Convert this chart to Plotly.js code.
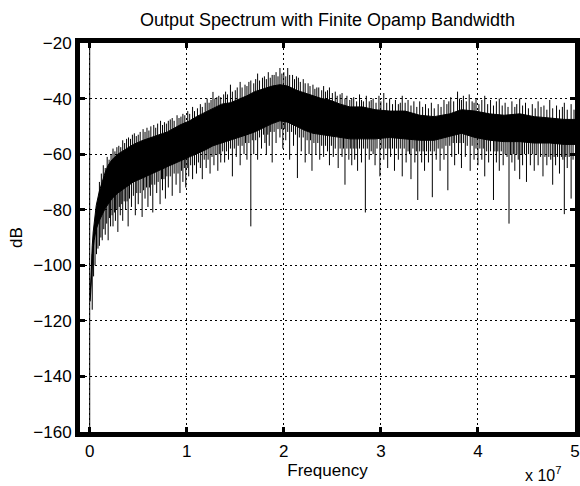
<!DOCTYPE html>
<html>
<head>
<meta charset="utf-8">
<script src="https://cdn.plot.ly/plotly-3.0.1.min.js"></script>
<style>
  html, body { margin: 0; padding: 0; background: #fff; }
  #chart { width: 580px; height: 486px; }
</style>
</head>
<body>
<div id="chart"></div>
<script>
// ---- Data (frequency in MHz, level in dB) ----
// Solid core of the noisy spectrum: upper and lower edge
const coreF = [0.05,0.15,0.26,0.36,0.46,0.67,0.98,1.29,1.6,1.9,2.3,2.9,3.65,4.5,5.5,6.7,8.0,9.3,10.3,11.0,11.9,12.7,13.6,14.5,15.5,16.2,17.0,17.9,18.8,19.6,20.4,21.3,22.2,23.0,23.9,24.7,25.8,26.8,28.1,29.4,30.9,32.5,34.0,35.5,37.1,38.3,39.7,41.2,42.7,44.3,45.8,47.4,48.9,50.0];
const coreTopDb = [-111,-101,-93,-88,-84.5,-78.5,-73.5,-69.5,-66.5,-64,-62,-60,-58.5,-56.5,-55,-53.5,-52,-49.5,-48,-46.5,-45,-43.5,-42,-41.5,-40,-39,-37.5,-36.5,-35.5,-35,-35.5,-37,-38,-39,-40,-40.5,-42,-43,-43,-44,-44.5,-44.5,-46,-46.5,-45.5,-44,-44.5,-45.5,-46,-45.5,-46.5,-47,-47.5,-47.5];
const coreBottomDb = [-113,-106,-98,-94,-91,-87,-84,-81.5,-79.5,-78,-76,-74,-72,-70,-68.5,-66.5,-64.5,-62.5,-61,-60,-58.5,-57,-56,-55,-54,-53,-52,-50.5,-49,-48,-48.5,-50,-51.5,-52.5,-53,-53.5,-54,-54.5,-54.5,-54.5,-54,-54.5,-55,-55,-53.5,-52.5,-54,-55,-55.5,-55.5,-56,-56,-56.5,-56.5];

// Downward noise spikes (frequency, minimum level)
const downF = [0.26,0.4,0.55,0.7,0.85,1.0,1.15,1.29,1.45,1.6,1.75,1.9,2.05,2.15,2.3,2.4,2.55,2.65,2.8,2.9,3.05,3.15,3.3,3.4,3.55,3.7,3.85,3.96,4.1,4.3,4.5,4.7,4.85,5.0,5.2,5.4,5.55,5.7,5.85,6.0,6.15,6.25,6.4,6.5,6.7,6.9,7.05,7.25,7.4,7.5,7.65,7.8,7.95,8.1,8.3,8.5,8.7,8.9,9.1,9.3,9.45,9.6,9.75,9.9,10.05,10.2,10.4,10.6,10.8,11.0,11.2,11.4,11.6,11.8,12.0,12.2,12.4,12.6,12.8,13.0,13.2,13.35,13.5,13.7,13.9,14.1,14.3,14.5,14.7,14.9,15.1,15.3,15.5,15.7,15.9,16.05,16.2,16.4,16.6,16.75,16.9,17.1,17.3,17.5,17.7,17.9,18.05,18.2,18.35,18.5,18.65,18.8,19.0,19.2,19.4,19.6,19.75,19.9,20.05,20.2,20.4,20.6,20.8,21.0,21.2,21.4,21.6,21.8,22.0,22.2,22.4,22.6,22.75,22.9,23.1,23.3,23.5,23.7,23.9,24.1,24.3,24.5,24.7,24.9,25.1,25.3,25.6,25.8,26.0,26.15,26.3,26.5,26.7,26.85,27.0,27.15,27.3,27.45,27.6,27.8,28.0,28.2,28.4,28.6,28.8,29.0,29.2,29.4,29.6,29.9,30.1,30.3,30.5,30.7,30.85,31.0,31.2,31.4,31.6,31.8,32.0,32.2,32.4,32.6,32.8,32.95,33.1,33.3,33.5,33.65,33.8,34.0,34.2,34.35,34.5,34.7,34.9,35.1,35.3,35.5,35.7,35.9,36.1,36.3,36.5,36.7,36.9,37.1,37.3,37.45,37.6,37.8,38.0,38.15,38.3,38.5,38.7,38.9,39.2,39.4,39.6,39.8,40.0,40.2,40.4,40.55,40.7,40.9,41.1,41.3,41.6,41.75,41.9,42.05,42.2,42.4,42.6,42.8,43.0,43.2,43.35,43.5,43.65,43.8,44.0,44.15,44.3,44.45,44.6,44.8,45.0,45.2,45.4,45.6,45.8,46.0,46.2,46.45,46.7,46.9,47.1,47.3,47.5,47.7,47.85,48.0,48.2,48.4,48.6,48.75,48.9,49.05,49.2,49.4,49.6,49.8];
const downDb = [-116,-104,-100,-96,-94,-93,-90,-91,-87,-89,-85,-91,-83,-86,-82,-86,-81,-84,-80,-88,-79,-82,-78,-84,-77,-80,-77,-86,-76,-79,-75,-82,-74,-78,-74,-82.6,-73,-76,-72,-79,-72,-75,-71,-81,-71,-74,-70,-78,-69,-73,-69,-76,-68,-72,-68,-75,-67,-71,-67,-74,-66,-70,-65,-72,-65,-68,-64,-69,-64,-67,-63,-65,-69,-62,-65,-62,-67,-61,-64,-60,-66,-60,-63,-59,-63,-59,-62,-58,-68,-58,-61,-57,-64,-57,-60,-56,-62,-56,-86,-55,-60,-55,-62,-54,-58,-53,-56,-60,-53,-57,-52,-63,-52,-56,-51,-54,-51,-58,-51,-55,-52,-62,-52,-57,-53,-68.6,-54,-59,-54,-63,-55,-60,-55,-66,-56,-60,-56,-62,-57,-61,-57,-59,-64,-57,-61,-58,-65,-58,-61,-58,-71,-58,-62,-58,-64,-58,-62,-58,-66,-58,-63,-58,-81,-58,-62,-59,-60,-64,-58,-68,-58,-62,-58,-65,-58,-61,-58,-66,-58,-62,-58,-68,-58,-63,-59,-60,-69,-58,-63,-59,-76.5,-59,-63,-59,-66,-59,-63,-59,-75.5,-59,-62,-58,-66,-58,-62,-57,-73,-57,-61,-56,-64,-56,-60,-56,-65,-56,-61,-57,-66,-57,-62,-58,-64,-58,-62,-58,-68,-59,-63,-59,-76.5,-59,-63,-59,-66,-59,-64,-60,-61,-85,-60,-63,-60,-66,-60,-62,-69,-60,-64,-60,-70,-60,-64,-60,-66,-60,-64,-61,-68,-61,-64,-61,-62,-71,-61,-64,-61,-67,-61,-62,-81.6,-61,-65,-61,-76,-62];

// Upward noise spikes (frequency, maximum level)
const upF = [1.0,1.2,1.4,1.6,1.8,2.0,2.2,2.4,2.6,2.8,3.0,3.2,3.4,3.6,3.8,4.0,4.2,4.4,4.6,4.8,5.0,5.2,5.5,5.7,5.9,6.1,6.3,6.6,6.8,7.0,7.3,7.5,7.7,7.9,8.1,8.3,8.5,8.7,9.0,9.2,9.4,9.6,9.8,10.1,10.3,10.6,10.8,11.1,11.4,11.6,11.9,12.1,12.3,12.5,12.7,12.9,13.1,13.3,13.5,13.8,14.0,14.2,14.5,14.7,15.0,15.2,15.5,15.7,16.0,16.2,16.4,16.6,16.9,17.1,17.3,17.5,17.8,18.0,18.2,18.4,18.6,18.8,19.0,19.2,19.4,19.6,19.8,20.0,20.2,20.4,20.6,20.9,21.1,21.3,21.5,21.7,22.0,22.2,22.5,22.7,23.0,23.2,23.4,23.6,23.9,24.1,24.3,24.5,24.7,25.0,25.3,25.5,25.8,26.0,26.3,26.5,26.8,27.0,27.2,27.5,27.8,28.0,28.2,28.5,28.8,29.0,29.2,29.5,29.8,30.0,30.3,30.6,30.9,31.2,31.5,31.8,32.0,32.2,32.5,32.8,33.1,33.4,33.7,34.0,34.3,34.6,34.9,35.2,35.5,35.9,36.2,36.5,36.8,37.0,37.2,37.5,37.9,38.1,38.3,38.5,38.8,39.1,39.4,39.6,39.8,40.1,40.4,40.7,41.0,41.3,41.6,41.9,42.2,42.5,42.8,43.1,43.5,43.8,44.0,44.3,44.6,44.9,45.2,45.6,45.9,46.2,46.5,46.8,47.1,47.4,47.7,48.1,48.4,48.7,48.9,49.2,49.6,49.9];
const upDb = [-70,-67,-64,-65,-61,-62,-60,-58,-59,-57.5,-57,-57.5,-55,-56,-54.5,-54,-54.5,-53,-52.5,-53.5,-53,-52,-51,-52,-50.5,-51.5,-50,-49.5,-50.5,-49,-48,-49.5,-48.5,-49,-48,-47.5,-47,-48,-46,-47,-46.5,-45.5,-46,-44.5,-45.5,-43,-44.5,-43.5,-42,-43,-41.5,-40,-41.5,-40.5,-37.6,-40,-39.5,-39,-39.5,-38.5,-37.5,-38.5,-35,-37.5,-37,-36,-34,-36,-35,-35.5,-34,-33.5,-34.5,-33,-31,-33.5,-32.5,-32,-33,-30.5,-32.5,-31.5,-31.5,-30.5,-32,-29,-31,-30.5,-32,-29,-31.5,-31.5,-33,-32,-32.5,-34,-33,-34.5,-34.5,-35.5,-35,-36.5,-36,-36,-37,-35.5,-37.5,-37,-36,-38,-37.5,-39,-38.5,-38,-40,-39,-40.5,-40,-39.5,-41,-38.5,-40.5,-41,-39,-41,-40.5,-40,-41.5,-39,-41,-38,-41.5,-40,-42,-40.5,-42,-41.5,-39,-41.5,-40.5,-42.5,-41,-43,-41,-43,-42,-43.5,-41.5,-43.5,-42,-43,-40.5,-42,-41,-39.5,-41,-37.5,-40,-40.5,-39,-41,-38.5,-41,-41.5,-40,-42,-40.5,-39,-42,-40.5,-42.5,-41,-40,-42.5,-41.5,-43,-41,-43,-42,-40,-42.5,-41.5,-43.5,-42,-43.5,-41,-43,-42.5,-44,-40.5,-43.5,-42.5,-44,-43,-41.5,-44,-42,-44];

// DC bin: the trace runs through the whole plot height at f = 0
const dcF = [0, 0];
const dcDb = [-10, -175];

// Axis ticks
const xTickVals = [0, 1e7, 2e7, 3e7, 4e7, 5e7];
const xTickText = ['0', '1', '2', '3', '4', '5'];
const yTickVals = [-160, -140, -120, -100, -80, -60, -40, -20];

// ---- helpers ----
const HZ = v => v * 1e6;
function coreAt(arr, f) {
  if (f <= coreF[0]) return arr[0];
  for (let i = 1; i < coreF.length; i++) {
    if (f <= coreF[i]) {
      const t = (f - coreF[i - 1]) / (coreF[i] - coreF[i - 1]);
      return arr[i - 1] + t * (arr[i] - arr[i - 1]);
    }
  }
  return arr[arr.length - 1];
}
function spikes(fs, dbs, base, inset) {
  const x = [], y = [];
  fs.forEach((f, i) => {
    x.push(HZ(f), HZ(f), null);
    y.push(coreAt(base, f) + inset, dbs[i], null);
  });
  return { x, y };
}
const dn = spikes(downF, downDb, coreBottomDb, 2);
const up = spikes(upF, upDb, coreTopDb, -2);

const lineStyle = { color: '#000', width: 1 };
const traces = [
  { x: coreF.map(HZ), y: coreBottomDb, mode: 'lines', line: lineStyle, hoverinfo: 'skip' },
  { x: coreF.map(HZ), y: coreTopDb, mode: 'lines', line: lineStyle, fill: 'tonexty', fillcolor: '#000', hoverinfo: 'skip' },
  { x: dn.x, y: dn.y, mode: 'lines', line: lineStyle, connectgaps: false, hoverinfo: 'skip' },
  { x: up.x, y: up.y, mode: 'lines', line: lineStyle, connectgaps: false, hoverinfo: 'skip' },
  { x: dcF.map(HZ), y: dcDb, mode: 'lines', line: lineStyle, hoverinfo: 'skip' }
];

const FONT = '"Liberation Sans", Arial, Helvetica, sans-serif';
const axisCommon = {
  showline: true, linewidth: 5, linecolor: '#000', mirror: 'ticks',
  ticks: 'inside', ticklen: 5, tickwidth: 3, tickcolor: '#000',
  showgrid: true, gridcolor: '#000', gridwidth: 1, griddash: '2px,3px',
  zeroline: false,
  tickfont: { family: FONT, size: 17, color: '#000' }
};

const layout = {
  width: 580, height: 486,
  margin: { l: 80, r: 5, t: 43, b: 54 },
  paper_bgcolor: '#fff', plot_bgcolor: '#fff',
  showlegend: false, hovermode: false,
  font: { family: FONT, size: 17, color: '#000' },
  title: {
    text: 'Output Spectrum with Finite Opamp Bandwidth',
    font: { family: FONT, size: 18, color: '#000' },
    x: 0.5, xanchor: 'center', xref: 'paper',
    y: 0.96, yanchor: 'middle', yref: 'container'
  },
  xaxis: Object.assign({}, axisCommon, {
    range: [-1e6, 5e7],
    tickmode: 'array', tickvals: xTickVals, ticktext: xTickText,
    title: { text: 'Frequency', font: { family: FONT, size: 17, color: '#000' }, standoff: 1 }
  }),
  yaxis: Object.assign({}, axisCommon, {
    range: [-160, -20],
    tickmode: 'array', tickvals: yTickVals,
    title: { text: 'dB', font: { family: FONT, size: 17, color: '#000' }, standoff: 8 }
  }),
  annotations: [{
    text: 'x 10<sup>7</sup>', xref: 'paper', yref: 'paper',
    x: 0.935, y: -0.108, xanchor: 'center', yanchor: 'middle',
    showarrow: false, font: { family: FONT, size: 16, color: '#000' }
  }]
};

Plotly.newPlot('chart', traces, layout, { staticPlot: true, displayModeBar: false });
</script>
</body>
</html>
